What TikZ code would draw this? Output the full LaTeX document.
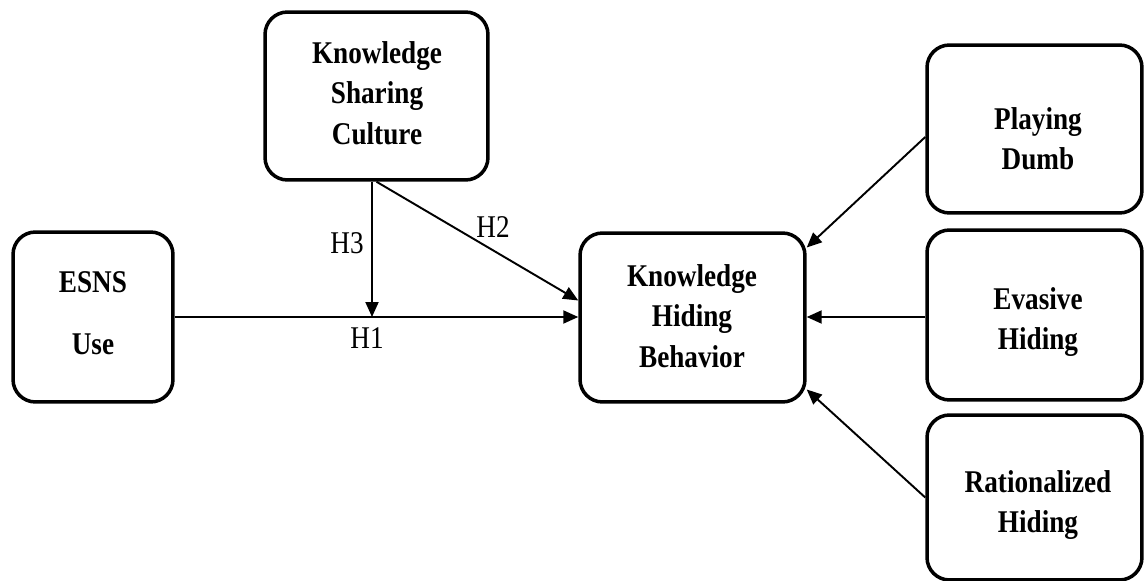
\documentclass[tikz,border=0pt]{standalone}
\usepackage{fontspec}
\setmainfont{Liberation Serif}
\newfontfamily\narrowserif[FakeStretch=0.86]{Liberation Serif}
\usetikzlibrary{arrows.meta,calc}
\begin{document}
\begin{tikzpicture}[x=0.02cm,y=-0.02cm,
  box/.style={draw=black,line width=2pt,rounded corners=0.45cm,inner sep=0pt},
  boxtext/.style={align=center,font=\narrowserif\fontsize{18}{23}\selectfont\bfseries,inner sep=0pt},
  hlabel/.style={font=\narrowserif\fontsize{18}{20}\selectfont,inner sep=0pt},
  conn/.style={line width=1.1pt,-{Triangle[length=0.3cm,width=0.26cm]}},
  plain/.style={line width=1.1pt}]
\useasboundingbox (0,0) rectangle (1144,581);
% boxes
\node[box,minimum width=3.2cm,minimum height=3.4cm] (esns) at (93,317) {};
\node[box,minimum width=4.46cm,minimum height=3.36cm] (ksc) at (376.5,96) {};
\node[box,minimum width=4.5cm,minimum height=3.38cm] (khb) at (692.5,317.5) {};
\node[box,minimum width=4.3cm,minimum height=3.36cm] (pd) at (1034.5,129) {};
\node[box,minimum width=4.3cm,minimum height=3.4cm] (eh) at (1034.5,315) {};
\node[box,minimum width=4.3cm,minimum height=3.3cm] (rh) at (1034.5,497.5) {};
% texts
\node[boxtext] (esnsT) at (93,313) {ESNS\\[12pt]Use};
\node[boxtext] (kscT) at (377,93) {Knowledge\\Sharing\\Culture};
\node[boxtext] (khbT) at (692,316) {Knowledge\\Hiding\\Behavior};
\node[boxtext] (pdT) at (1038,139) {Playing\\Dumb};
\node[boxtext] (ehT) at (1038,322) {Evasive\\Hiding};
\node[boxtext] (rhT) at (1038,505) {Rationalized\\Hiding};
% connectors
\coordinate (h3end) at (372,317);
\draw[conn] (esns.east |- h3end) -- (khb.west |- h3end);
\draw[conn] (ksc.south -| h3end) -- (h3end);
\draw[conn] (ksc.south) -- ($(khb.west)+(0,-17)$);
\draw[conn] ($(pd.west)+(0,8)$) -- ($(khb.east)+(0,-70)$);
\draw[conn] (eh.west |- h3end) -- (khb.east |- h3end);
\draw[conn] (rh.west) -- ($(khb.east)+(0,72)$);
% labels
\node[hlabel] (H3) at (347,243) {H3};
\node[hlabel] (H2) at (493,227) {H2};
\node[hlabel] (H1) at (367,338) {H1};
\end{tikzpicture}
\end{document}
